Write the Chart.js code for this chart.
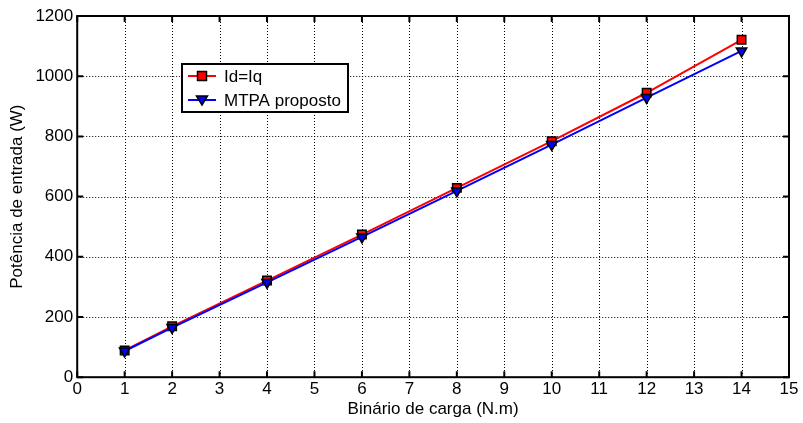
<!DOCTYPE html>
<html>
<head>
<meta charset="utf-8">
<script src="https://cdn.jsdelivr.net/npm/chart.js@4"></script>
<style>
  html, body { margin: 0; padding: 0; background: #fff; }
  #wrap { width: 803px; height: 423px; }
</style>
</head>
<body>
<div id="wrap"><canvas id="grafica" width="803" height="423"></canvas></div>
<script>
// binário de carga (N.m)
const binario = [1, 2, 4, 6, 8, 10, 12, 14];
// potência de entrada (W)
const potIdIq = [89, 169, 321, 474, 629, 784, 945, 1121];
const potMtpa = [87, 165, 315, 466, 619, 773, 929, 1084];
const ticksX = [0, 1, 2, 3, 4, 5, 6, 7, 8, 9, 10, 11, 12, 13, 14, 15];
const ticksY = [0, 200, 400, 600, 800, 1000, 1200];

const fonte = 'Liberation Sans, Arial, sans-serif';

// grelha pontilhada, marcas internas nos eixos e caixa da legenda
const extras = {
   id: 'extras',
   beforeDatasetsDraw(chart) {
      const { ctx, chartArea: a, scales } = chart;
      ctx.save();
      ctx.strokeStyle = '#000';
      ctx.lineWidth = 1;
      ctx.setLineDash([1, 2]);
      ticksX.forEach(v => {
         const x = Math.round(scales.x.getPixelForValue(v)) + 0.5;
         ctx.beginPath();
         ctx.moveTo(x, a.top); ctx.lineTo(x, a.bottom);
         ctx.stroke();
      });
      ticksY.forEach(v => {
         const y = Math.round(scales.y.getPixelForValue(v)) + 0.5;
         ctx.beginPath();
         ctx.moveTo(a.left, y); ctx.lineTo(a.right, y);
         ctx.stroke();
      });
      ctx.restore();
   },
   afterDraw(chart) {
      const { ctx, chartArea: a, scales } = chart;
      ctx.save();
      ctx.strokeStyle = '#000';
      ctx.lineWidth = 2;
      ticksX.forEach(v => {
         const x = scales.x.getPixelForValue(v);
         ctx.beginPath();
         ctx.moveTo(x, a.bottom); ctx.lineTo(x, a.bottom - 6);
         ctx.moveTo(x, a.top); ctx.lineTo(x, a.top + 6);
         ctx.stroke();
      });
      ticksY.forEach(v => {
         const y = scales.y.getPixelForValue(v);
         ctx.beginPath();
         ctx.moveTo(a.left, y); ctx.lineTo(a.left + 6, y);
         ctx.moveTo(a.right, y); ctx.lineTo(a.right - 6, y);
         ctx.stroke();
      });
      ctx.strokeRect(a.left, a.top, a.right - a.left, a.bottom - a.top);

      // legenda
      const lx = 182, ly = 64, lw = 166, lh = 48;
      ctx.fillStyle = '#fff';
      ctx.fillRect(lx, ly, lw, lh);
      ctx.strokeRect(lx, ly, lw, lh);
      const itens = [
         { txt: 'Id=Iq', cor: '#ff0000', tipo: 'q' },
         { txt: 'MTPA proposto', cor: '#0000ff', tipo: 't' }
      ];
      itens.forEach((it, i) => {
         const cy = ly + 12 + i * 24;
         ctx.strokeStyle = it.cor;
         ctx.lineWidth = 2;
         ctx.beginPath();
         ctx.moveTo(lx + 6, cy); ctx.lineTo(lx + 34, cy);
         ctx.stroke();
         ctx.fillStyle = it.cor;
         ctx.strokeStyle = '#000';
         ctx.lineWidth = 1.5;
         ctx.beginPath();
         if (it.tipo === 'q') {
            ctx.rect(lx + 15.5, cy - 4.5, 9, 9);
         } else {
            ctx.moveTo(lx + 14.5, cy - 4);
            ctx.lineTo(lx + 25.5, cy - 4);
            ctx.lineTo(lx + 20, cy + 5);
            ctx.closePath();
         }
         ctx.fill();
         ctx.stroke();
         ctx.fillStyle = '#000';
         ctx.font = '17px ' + fonte;
         ctx.textBaseline = 'middle';
         ctx.fillText(it.txt, lx + 42, cy + 1);
      });
      ctx.restore();
   }
};

const ctx = document.getElementById('grafica').getContext('2d');

const chart = new Chart(ctx, {
   type: 'line',
   data: {
      datasets: [{
         label: 'MTPA proposto',
         data: binario.map((b, i) => ({ x: b, y: potMtpa[i] })),
         borderColor: '#0000ff',
         borderWidth: 2,
         backgroundColor: '#0000ff',
         pointStyle: 'triangle',
         rotation: 180,
         pointRadius: 6,
         pointBorderColor: '#000',
         pointBorderWidth: 1.5,
         tension: 0,
         order: 1
      }, {
         label: 'Id=Iq',
         data: binario.map((b, i) => ({ x: b, y: potIdIq[i] })),
         borderColor: '#ff0000',
         borderWidth: 2,
         backgroundColor: '#ff0000',
         pointStyle: 'rect',
         pointRadius: 6,
         pointBorderColor: '#000',
         pointBorderWidth: 1.5,
         tension: 0,
         order: 2
      }]
   },
   options: {
      responsive: false,
      animation: false,
      layout: { padding: { top: 16, right: 14, left: 3, bottom: 0 } },
      plugins: { legend: { display: false }, tooltip: { enabled: false } },
      scales: {
         x: {
            type: 'linear',
            min: 0,
            max: 15,
            afterBuildTicks: s => { s.ticks = ticksX.map(v => ({ value: v })); },
            grid: { display: false, drawTicks: false },
            border: { display: false },
            ticks: {
               color: '#000',
               font: { family: fonte, size: 17 },
               padding: 2,
               maxRotation: 0,
               callback: v => String(v)
            },
            title: {
               display: true,
               text: 'Binário de carga (N.m)',
               color: '#000',
               font: { family: fonte, size: 17 },
               padding: { top: -2, bottom: 3 }
            }
         },
         y: {
            min: 0,
            max: 1200,
            afterBuildTicks: s => { s.ticks = ticksY.map(v => ({ value: v })); },
            grid: { display: false, drawTicks: false },
            border: { display: false },
            ticks: {
               color: '#000',
               font: { family: fonte, size: 17 },
               padding: 4,
               callback: v => String(v)
            },
            title: {
               display: true,
               text: 'Potência de entrada (W)',
               color: '#000',
               font: { family: fonte, size: 17 },
               padding: { top: 4, bottom: 4 }
            }
         }
      }
   },
   plugins: [extras]
});
</script>
</body>
</html>
